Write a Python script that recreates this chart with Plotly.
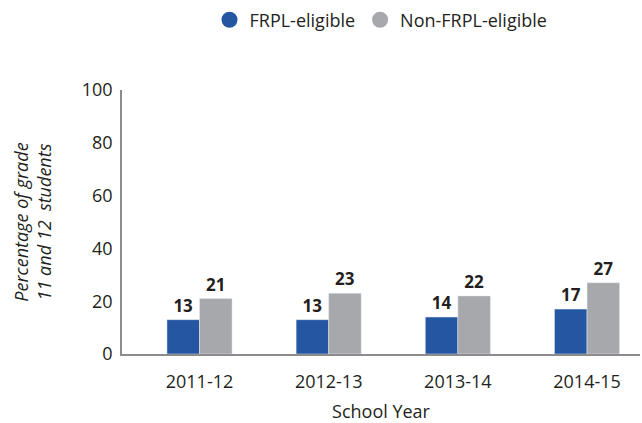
import plotly.graph_objects as go

years = ["2011-12", "2012-13", "2013-14", "2014-15"]
frpl = [13, 13, 14, 17]
non_frpl = [21, 23, 22, 27]
series_names = ["FRPL-eligible", "Non-FRPL-eligible"]
colors = ["#2456A1", "#A7A8AB"]
y_ticks = [0, 20, 40, 60, 80, 100]

FONT = "Open Sans, Noto Sans, sans-serif"
TXT = "#231F20"
FS = 18

fig = go.Figure()
for name, vals, col in zip(series_names, [frpl, non_frpl], colors):
    fig.add_trace(go.Bar(
        x=years, y=vals, name=name, marker_color=col, showlegend=False,
        text=vals, texttemplate="<b>%{text}</b>", textposition="outside",
        textfont=dict(size=17, color=TXT, family=FONT), cliponaxis=False,
    ))
    fig.add_trace(go.Scatter(
        x=[None], y=[None], mode="markers", name=name,
        marker=dict(symbol="circle", size=20, color=col),
    ))

fig.update_layout(
    width=642, height=423,
    margin=dict(l=122, r=2, t=90, b=69),
    paper_bgcolor="white", plot_bgcolor="white",
    font=dict(family=FONT, size=FS, color=TXT),
    barmode="group", bargap=0.496, bargroupgap=0,
    legend=dict(orientation="h", x=0.5, xanchor="center", y=1.265, yanchor="middle",
                font=dict(size=FS, color=TXT), itemwidth=30),
    xaxis=dict(type="category", range=[-0.6, 3.41], showline=True, linecolor="#8C8C8C",
               linewidth=1.5, ticks="", showgrid=False, tickfont=dict(size=FS, color=TXT),
               ticklabelstandoff=11, automargin=False,
               title=dict(text="School Year", font=dict(size=FS, color=TXT), standoff=14)),
    yaxis=dict(range=[0, 100], tickvals=y_ticks, showline=True, linecolor="#8C8C8C",
               linewidth=1.5, ticks="", showgrid=False, zeroline=False, automargin=False,
               tickfont=dict(size=FS, color=TXT), ticklabelstandoff=4,
               title=dict(text="<i>Percentage of grade<br>11 and 12  students</i>",
                          font=dict(size=FS, color=TXT), standoff=25)),
)

fig.write_html("out.html", config={"displayModeBar": False},
               post_script="document.body.style.margin='0';document.body.style.padding='0';")
